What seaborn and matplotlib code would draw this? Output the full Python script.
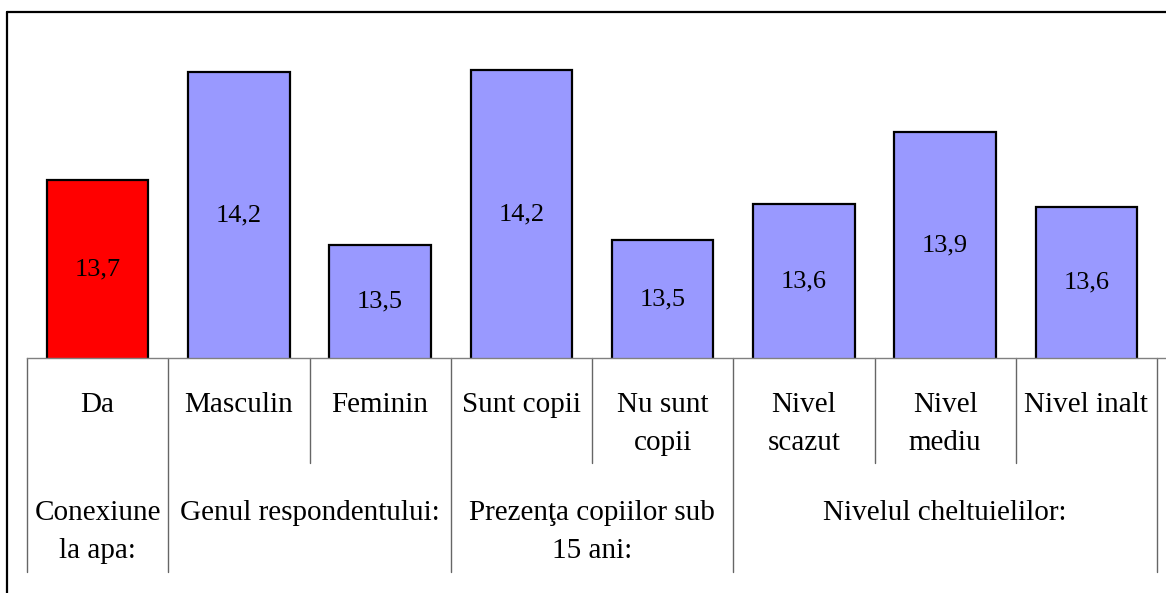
import matplotlib
matplotlib.use("Agg")
import matplotlib.pyplot as plt
import matplotlib.transforms as mtransforms
import seaborn as sns

# data
categories = ['Da', 'Masculin', 'Feminin', 'Sunt copii', 'Nu sunt\ncopii',
              'Nivel\nscazut', 'Nivel\nmediu', 'Nivel inalt']
values = [13.74, 14.19, 13.47, 14.20, 13.49, 13.64, 13.94, 13.63]
groups = ['Conexiune\nla apa:', 'Genul respondentului:',
          'Prezenţa copiilor sub\n15 ani:', 'Nivelul cheltuielilor:']
group_sizes = [1, 2, 2, 3]
bar_colors = ['#FF0000'] + ['#9999FF'] * 7

sns.set_style('white')
plt.rcParams['font.family'] = ['Liberation Serif', 'DejaVu Serif']
plt.rcParams['text.color'] = 'black'

W, H = 1166, 593
fig = plt.figure(figsize=(W / 100, H / 100), dpi=100)

# axes placed in pixel terms: baseline at y=358, left edge at x=27
ax = fig.add_axes([27 / W, 1 - 358 / H, (W - 27) / W, (358 - 12) / H])

sns.barplot(x=categories, y=values, hue=categories, palette=bar_colors,
            legend=False, width=0.72, edgecolor='black', linewidth=1.6,
            saturation=1, ax=ax)

ax.set_ylim(13.0, 13.0 + 346 / 240)
ax.set_xlim(-0.5, 7.5 + 9 / 141.25)
ax.set_yticks([])
ax.set_xticks([])
ax.set_xlabel('')
ax.set_ylabel('')
for s in ['left', 'top', 'right']:
    ax.spines[s].set_visible(False)
ax.spines['bottom'].set_color('#808080')
ax.spines['bottom'].set_linewidth(1)

# value labels in the middle of each bar
for i, v in enumerate(values):
    ax.text(i, (13.0 + v) / 2, f'{v:.1f}'.replace('.', ','),
            ha='center', va='center', fontsize=19, color='black')

# multi-level category axis under the bars
blend = mtransforms.blended_transform_factory(ax.transData, fig.transFigure)

def fy(px):
    return 1 - px / H

def put_label(x, first_baseline, label):
    # each line placed by its own baseline, 37 px apart
    for k, line in enumerate(label.split('\n')):
        ax.text(x, fy(first_baseline + 37.5 * k), line, transform=blend,
                ha='center', va='baseline', fontsize=21, color='black')

for i, lab in enumerate(categories):
    put_label(i, 412, lab)

start = 0
long_lines = [-0.5]
short_lines = []
for g, n in zip(groups, group_sizes):
    put_label(start + (n - 1) / 2, 520, g)
    for k in range(1, n):
        short_lines.append(start + k - 0.5)
    start += n
    long_lines.append(start - 0.5)

for x in long_lines:
    ax.plot([x, x], [fy(358), fy(572)], transform=blend, color='#666666',
            linewidth=1, clip_on=False)
for x in short_lines:
    ax.plot([x, x], [fy(358), fy(463)], transform=blend, color='#666666',
            linewidth=1, clip_on=False)

# outer frame (cut off at the right and bottom)
fig.add_artist(plt.Line2D([7 / W, 1.01], [fy(12), fy(12)], color='black',
                          linewidth=1.6))
fig.add_artist(plt.Line2D([7 / W, 7 / W], [fy(12), -0.01], color='black',
                          linewidth=1.6))

fig.savefig('out.png', dpi=100)
